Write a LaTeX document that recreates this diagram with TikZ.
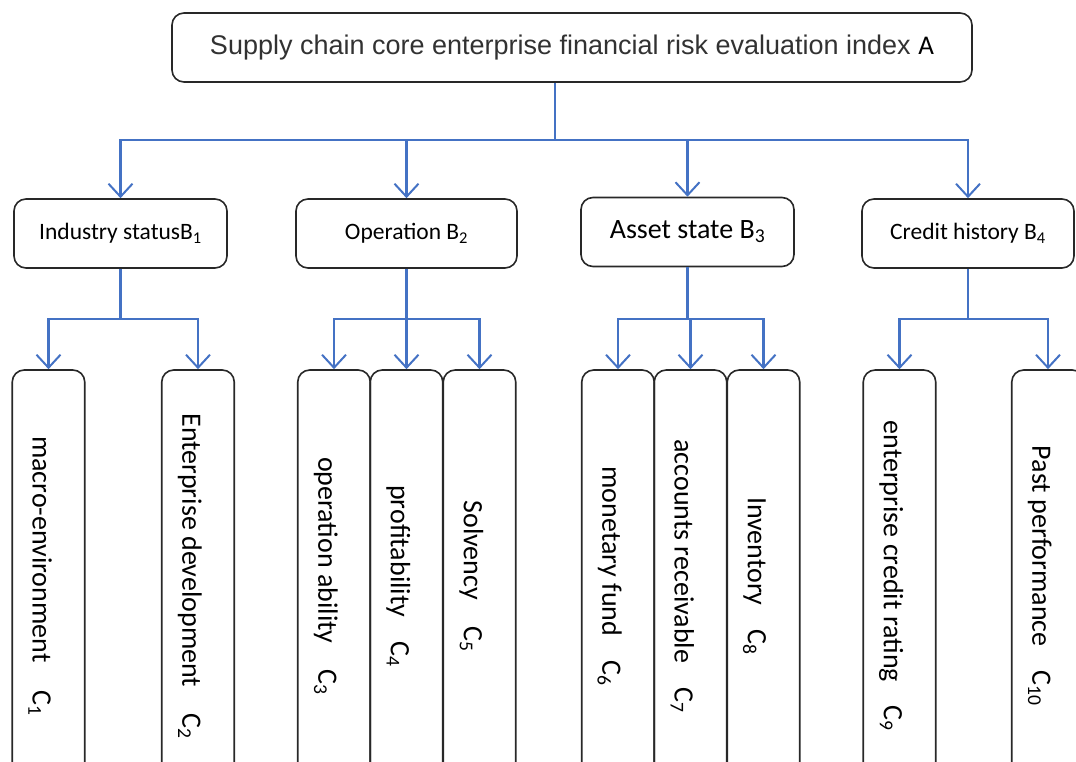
\documentclass[tikz,border=0pt]{standalone}
\usepackage{fontspec}
\setmainfont{Carlito}
\newfontfamily\arialf{Liberation Sans}
\usetikzlibrary{arrows.meta}
\definecolor{lineblue}{RGB}{68,114,196}
\definecolor{boxline}{RGB}{40,40,40}
\definecolor{toptext}{RGB}{50,50,50}
\begin{document}
\begin{tikzpicture}[x=1pt,y=-1pt,
 box/.style={draw=boxline, line width=1.6pt, rounded corners=12pt, inner sep=0pt},
 bbox/.style={box, minimum height=69pt, font=\fontsize{23.5}{28}\selectfont},
 cbox/.style={box, rotate=-90, minimum width=412pt, minimum height=72.5pt, font=\fontsize{28}{32}\selectfont, execute at begin node={\rule{0pt}{36pt}}},
 link/.style={draw=lineblue, line width=2.2pt},
 arr/.style={link, -{Straight Barb[length=13pt,width=24pt,line width=2pt]}},
]
\useasboundingbox (0,0) rectangle (1076,762);
\node[box, minimum width=800pt, minimum height=69pt, text=toptext, font=\arialf\fontsize{27}{32}\selectfont] (a) at (572,47.5) {Supply chain core enterprise financial risk evaluation index {\rmfamily\color{black}A}};
\node[bbox, minimum width=213pt] (b1) at (120.5,233.5) {Industry statusB\textsubscript{1}};
\node[bbox, minimum width=221pt] (b2) at (406.5,233.5) {Operation B\textsubscript{2}};
\node[bbox, minimum width=213pt, font=\fontsize{28}{32}\selectfont] (b3) at (687.5,232) {Asset state B\textsubscript{3}};
\node[bbox, minimum width=212pt] (b4) at (968,233.5) {Credit history B\textsubscript{4}};
\node[cbox] (c1) at (48.5,576) {macro-environment\hspace{28pt}C\textsubscript{1}};
\node[cbox] (c2) at (198,576) {Enterprise development\hspace{26pt}C\textsubscript{2}};
\node[cbox] (c3) at (334,576) {operation ability\hspace{26pt}C\textsubscript{3}};
\node[cbox] (c4) at (406.5,576) {profitability\hspace{24pt}C\textsubscript{4}};
\node[cbox] (c5) at (479.5,576) {Solvency\hspace{26pt}C\textsubscript{5}};
\node[cbox] (c6) at (618,576) {monetary fund\hspace{24pt}C\textsubscript{6}};
\node[cbox] (c7) at (690.5,576) {accounts receivable\hspace{24pt}C\textsubscript{7}};
\node[cbox] (c8) at (763.5,576) {Inventory\hspace{24pt}C\textsubscript{8}};
\node[cbox] (c9) at (899.5,576) {enterprise credit rating\hspace{24pt}C\textsubscript{9}};
\node[cbox] (c10) at (1048,576) {Past performance\hspace{24pt}C\textsubscript{10}};
\coordinate (ja) at (555,140);
\draw[link] (a.south -| ja) -- (ja);
\foreach \b in {b1,b2,b3,b4} \draw[arr] (ja) -| (\b.north);
\draw[link] (b1.south) -- ++(0,50) coordinate (j1);
\draw[link] (b2.south) -- ++(0,50) coordinate (j2);
\draw[link] (b3.south) -- ++(0,52) coordinate (j3);
\draw[link] (b4.south) -- ++(0,50) coordinate (j4);
\foreach \c in {c1,c2} \draw[arr] (j1) -| (\c.west);
\foreach \c in {c3,c4,c5} \draw[arr] (j2) -| (\c.west);
\foreach \c in {c6,c7,c8} \draw[arr] (j3) -| (\c.west);
\foreach \c in {c9,c10} \draw[arr] (j4) -| (\c.west);
\end{tikzpicture}
\end{document}
